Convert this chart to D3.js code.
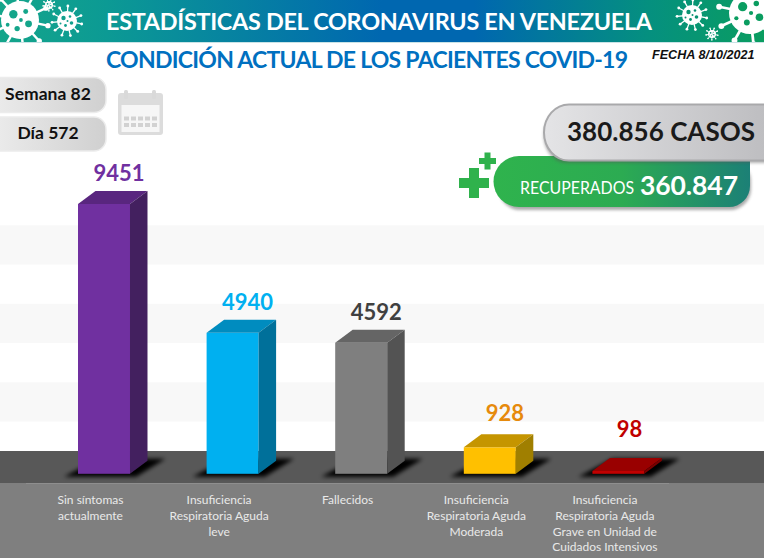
<!DOCTYPE html>
<html>
<head>
<meta charset="utf-8">
<title>Condición actual de los pacientes</title>
<script src="https://cdn.jsdelivr.net/npm/d3@7"></script>
<style>
  html, body { margin: 0; padding: 0; background: #fff; overflow: hidden; }
  svg { display: block; }
  text { font-family: Lato, "Open Sans", sans-serif; }
</style>
</head>
<body>
<svg id="chart" width="764" height="558"></svg>
<script>
// chart values
var categories = ["sin", "leve", "fallecidos", "moderada", "grave"];
var values = [9451, 4940, 4592, 928, 98];
var categoryLines = [
  ["Sin síntomas", "actualmente"],
  ["Insuficiencia", "Respiratoria Aguda", "leve"],
  ["Fallecidos"],
  ["Insuficiencia", "Respiratoria Aguda", "Moderada"],
  ["Insuficiencia", "Respiratoria Aguda", "Grave en Unidad de", "Cuidados Intensivos"]
];
var frontColors = ["#7030a0", "#00b0f0", "#7f7f7f", "#ffc000", "#c00000"];
var topColors = ["#59267f", "#008cbf", "#656565", "#c59500", "#990000"];
var sideColors = ["#43205f", "#00709a", "#535353", "#a07f00", "#7a0000"];
var labelColors = ["#7030a0", "#00b0f0", "#404040", "#e68a0c", "#c00000"];
var bandTicks = [0, 1375, 2750, 4125, 5500, 6875, 8250];

// 3d offset of the bars
var depthX = 17.5, depthY = 13;

var svg = d3.select("#chart");
var defs = svg.append("defs");

function hGradient(id, stops) {
  var g = defs.append("linearGradient").attr("id", id);
  stops.forEach(function(s) {
    g.append("stop").attr("offset", s[0]).attr("stop-color", s[1]);
  });
}
hGradient("headerGrad", [["0", "#14a58a"], ["0.14", "#0c9a94"], ["0.5", "#0067b0"], ["0.62", "#0067b0"], ["0.85", "#05907f"], ["1", "#0a9d60"]]);
hGradient("greyPill", [["0", "#f1f1f1"], ["1", "#d0d0d0"]]);
hGradient("casosPill", [["0", "#e4e4e6"], ["1", "#bdbdc0"]]);
hGradient("recPill", [["0", "#2fb34d"], ["0.5", "#2cab52"], ["1", "#1c8076"]]);
defs.append("filter").attr("id", "soft")
  .attr("filterUnits", "userSpaceOnUse").attr("x", 0).attr("y", 440).attr("width", 764).attr("height", 50)
  .append("feGaussianBlur").attr("stdDeviation", 2);
defs.append("filter").attr("id", "soft2").attr("x", "-20%").attr("y", "-30%").attr("width", "140%").attr("height", "160%")
  .append("feGaussianBlur").attr("stdDeviation", 1.5);

var x = d3.scaleBand().domain(categories).range([78, 644.4]).paddingInner(0.5957).paddingOuter(0);
var y = d3.scaleLinear().domain([0, 9451]).range([473.8, 204]);

// back wall bands, every second interval is light grey
var bandData = d3.pairs(bandTicks).filter(function(d, i) { return i % 2 == 1; });
svg.append("g").selectAll("rect").data(bandData).join("rect")
  .attr("x", 0).attr("width", 764)
  .attr("y", function(d) { return y(d[1]) - depthY; })
  .attr("height", function(d) { return y(d[0]) - y(d[1]); })
  .attr("fill", "#f8f8f8");

// floor and the grey strip under it
svg.append("rect").attr("x", 0).attr("y", 451).attr("width", 764).attr("height", 32).attr("fill", "#585858");
svg.append("rect").attr("x", 0).attr("y", 483).attr("width", 764).attr("height", 75).attr("fill", "#7f7f7f");
svg.append("line").attr("x1", 26).attr("x2", 669).attr("y1", 483.5).attr("y2", 483.5).attr("stroke", "#8e8e8e");

// shadows go first so they never cover a neighbouring bar
svg.append("g").selectAll("path").data(categories).join("path")
  .attr("d", function(c) {
    var l = x(c), r = l + x.bandwidth(), b = y(0);
    return "M" + (l - 14) + "," + (b + 3) + "L" + (r + 6) + "," + (b + 3) + "L" + (r + depthX + 18) + "," + (b - depthY - 2) + "L" + (l + 20) + "," + (b - depthY - 2) + "Z";
  })
  .attr("fill", "#000").attr("filter", "url(#soft)");

// bars
var bars = svg.append("g").selectAll("g").data(categories).join("g");

bars.append("rect")
  .attr("x", function(c) { return x(c); })
  .attr("y", function(c, i) { return y(values[i]); })
  .attr("width", x.bandwidth())
  .attr("height", function(c, i) { return y(0) - y(values[i]); })
  .attr("fill", function(c, i) { return frontColors[i]; });

bars.append("path")
  .attr("d", function(c, i) {
    var l = x(c), r = l + x.bandwidth(), t = y(values[i]);
    return "M" + l + "," + t + "L" + r + "," + t + "L" + (r + depthX) + "," + (t - depthY) + "L" + (l + depthX) + "," + (t - depthY) + "Z";
  })
  .attr("fill", function(c, i) { return topColors[i]; });

bars.append("path")
  .attr("d", function(c, i) {
    var r = x(c) + x.bandwidth(), t = y(values[i]), b = y(0);
    return "M" + r + "," + t + "L" + (r + depthX) + "," + (t - depthY) + "L" + (r + depthX) + "," + (b - depthY) + "L" + r + "," + b + "Z";
  })
  .attr("fill", function(c, i) { return sideColors[i]; });

// value labels above the bars, the two short bars have their labels lifted a bit more
function labelLift(v) {
  if (v < 100) return 21;
  if (v < 1000) return 13;
  return 10;
}
bars.append("text")
  .attr("x", function(c, i) { return x(c) + x.bandwidth() / 2 + (values[i] < 100 ? 11 : 15); })
  .attr("y", function(c, i) { return y(values[i]) - depthY - labelLift(values[i]); })
  .attr("text-anchor", "middle")
  .attr("font-size", 22).attr("font-weight", 700)
  .attr("fill", function(c, i) { return labelColors[i]; })
  .text(function(c, i) { return values[i]; });

// category labels, the line pitch is not quite even in the original
var lineY = [504, 519.5, 536, 551];
bars.append("text")
  .attr("text-anchor", "middle")
  .attr("font-size", 12)
  .attr("fill", "#e9e9e9")
  .each(function(c, i) {
    var t = d3.select(this);
    categoryLines[i].forEach(function(line, j) {
      t.append("tspan")
        .attr("x", x(c) + x.bandwidth() / 2 - 13.5)
        .attr("y", lineY[j])
        .text(line);
    });
  });

// header
svg.append("rect").attr("width", 764).attr("height", 42).attr("fill", "url(#headerGrad)");
svg.append("rect").attr("y", 42).attr("width", 764).attr("height", 1).attr("fill", "#c9e3e6");

function virus(cx, cy, r, dotColor, spikes) {
  var g = svg.append("g").attr("transform", "translate(" + cx + "," + cy + ")");
  d3.range(spikes).forEach(function(i) {
    var a = i / spikes * 2 * Math.PI + 0.2;
    var len = r * 1.5;
    g.append("line")
      .attr("x2", Math.cos(a) * len).attr("y2", Math.sin(a) * len)
      .attr("stroke", "#fff").attr("stroke-width", Math.max(1, r * 0.13));
    g.append("circle")
      .attr("cx", Math.cos(a) * len).attr("cy", Math.sin(a) * len)
      .attr("r", Math.max(0.8, r * 0.14)).attr("fill", "#fff");
  });
  g.append("circle").attr("r", r).attr("fill", "#fff");
  var dots = [[-0.35, -0.3, 0.22], [0.3, -0.45, 0.13], [0.45, 0.2, 0.18], [-0.15, 0.45, 0.14], [-0.65, 0.25, 0.1], [0.05, 0, 0.1]];
  dots.forEach(function(d) {
    g.append("circle").attr("cx", d[0] * r).attr("cy", d[1] * r).attr("r", d[2] * r).attr("fill", dotColor);
  });
}
svg.append("clipPath").attr("id", "headerClip").append("rect").attr("width", 764).attr("height", 42);
var headerSvg = svg;
svg = svg.append("g").attr("clip-path", "url(#headerClip)");
virus(20, 20, 19, "#14a58a", 10);
virus(67, 21, 10, "#12a08e", 11);
virus(49, 5, 4, "#12a08e", 9);
virus(692, 15, 10, "#0a9272", 11);
virus(712, 34, 4, "#0a9272", 9);
virus(750, 13, 21, "#0a9d60", 10);
svg = headerSvg;

svg.append("text").attr("x", 106).attr("y", 30)
  .attr("font-size", 23.4).attr("font-weight", 700).attr("fill", "#fff")
  .attr("textLength", 546).attr("lengthAdjust", "spacing")
  .text("ESTADÍSTICAS DEL CORONAVIRUS EN VENEZUELA");
svg.append("text").attr("x", 106).attr("y", 68)
  .attr("font-size", 23).attr("font-weight", 700).attr("fill", "#0070c0")
  .attr("textLength", 522).attr("lengthAdjust", "spacing")
  .text("CONDICIÓN ACTUAL DE LOS PACIENTES COVID-19");
svg.append("text").attr("x", 652).attr("y", 59)
  .attr("font-size", 12.6).attr("font-weight", 700).attr("font-style", "italic")
  .style("font-family", "'Liberation Sans', sans-serif").attr("fill", "#111")
  .text("FECHA 8/10/2021");

// week and day pills, they run off the left edge
function sidePill(py, h, label, cx) {
  svg.append("rect").attr("x", -30).attr("y", py).attr("width", 136).attr("height", h).attr("rx", 12)
    .attr("fill", "url(#greyPill)").attr("stroke", "#ececec").attr("stroke-width", 1.5);
  svg.append("text").attr("x", cx).attr("y", py + 22).attr("text-anchor", "middle")
    .attr("font-size", 17.5).attr("font-weight", 700).attr("fill", "#111").text(label);
}
sidePill(77.5, 35, "Semana 82", 48);
sidePill(117, 34, "Día 572", 48);

// calendar icon
var cal = svg.append("g").attr("fill", "#d9d9d9");
cal.append("rect").attr("x", 118).attr("y", 93).attr("width", 45).attr("height", 42).attr("rx", 3).attr("fill", "#dcdcdc");
cal.append("rect").attr("x", 121.5).attr("y", 105).attr("width", 38).attr("height", 27).attr("fill", "#f6f6f6");
cal.append("rect").attr("x", 124).attr("y", 90).attr("width", 4).attr("height", 9).attr("rx", 1.5);
cal.append("rect").attr("x", 152).attr("y", 90).attr("width", 4).attr("height", 9).attr("rx", 1.5);
d3.range(2).forEach(function(r) {
  d3.range(5).forEach(function(k) {
    cal.append("rect").attr("x", 124 + k * 7).attr("y", 116.5 + r * 6.5).attr("width", 5).attr("height", 4).attr("fill", "#d2d2d2");
  });
});

// plus signs
function plus(cx, cy, size, arm) {
  svg.append("rect").attr("x", cx - size / 2).attr("y", cy - arm / 2).attr("width", size).attr("height", arm).attr("fill", "#2fb24c");
  svg.append("rect").attr("x", cx - arm / 2).attr("y", cy - size / 2).attr("width", arm).attr("height", size).attr("fill", "#2fb24c");
}
plus(474, 183, 30, 10);
plus(487.5, 161, 17, 6);

// totals
svg.append("rect").attr("x", 498).attr("y", 158).attr("width", 252).attr("height", 50).attr("rx", 21)
  .attr("fill", "#555").attr("opacity", 0.5).attr("filter", "url(#soft2)").attr("transform", "translate(1,2)");
svg.append("path").attr("d", "M519,156H750V186a21,21 0 0 1 -21,21H519a21,21 0 0 1 0,-51Z").attr("fill", "url(#recPill)");
svg.append("text").attr("x", 520).attr("y", 194).attr("font-size", 16.5).attr("fill", "#fff")
  .attr("textLength", 114).attr("lengthAdjust", "spacingAndGlyphs").text("RECUPERADOS");
svg.append("text").attr("x", 640).attr("y", 195).attr("font-size", 26.5).attr("font-weight", 700).attr("fill", "#fff")
  .attr("textLength", 98).attr("lengthAdjust", "spacing").text("360.847");

svg.append("path").attr("d", "M796,106H566a22,27 0 0 0 0,55H796Z")
  .attr("fill", "#555").attr("opacity", 0.45).attr("filter", "url(#soft2)").attr("transform", "translate(0,2)");
svg.append("path").attr("d", "M770,104.5H569a25,28 0 0 0 0,56H770Z")
  .attr("fill", "url(#casosPill)").attr("stroke", "#a9a9ab").attr("stroke-width", 2);
svg.append("text").attr("x", 567).attr("y", 141).attr("font-size", 26).attr("font-weight", 700).attr("fill", "#1a1a1a")
  .attr("textLength", 188).attr("lengthAdjust", "spacing").text("380.856 CASOS");
</script>
</body>
</html>
